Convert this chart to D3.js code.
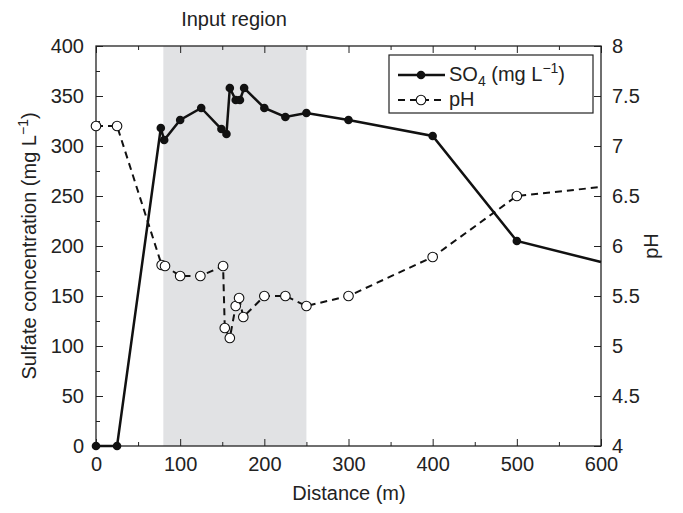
<!DOCTYPE html>
<html>
<head>
<meta charset="utf-8">
<script src="https://cdn.jsdelivr.net/npm/d3@7"></script>
<style>
  body { margin: 0; background: #fff; }
  text { font-family: "Liberation Sans", Arial, sans-serif; fill: #222; }
</style>
</head>
<body>
<script>
var w = 683;
var h = 513;

// sulfate (mg/L) against distance (m)
var so4Dist = [0, 25, 77, 81, 100, 125, 149, 155, 159, 166, 171, 176, 200, 225, 250, 300, 400, 500, 600];
var so4Val  = [0, 0, 318, 306, 326, 338, 317, 312, 358, 346, 346, 358, 338, 329, 333, 326, 310, 205, 184];
var so4Marker = [1,1,1,1,1,1,1,1,1,1,1,1,1,1,1,1,1,1,0];

// pH against distance (m)
var phDist = [0, 25, 78, 82, 100, 124, 151, 153, 159, 166, 170, 175, 200, 225, 250, 300, 400, 500, 600];
var phVal  = [7.2, 7.2, 5.81, 5.8, 5.7, 5.7, 5.8, 5.18, 5.08, 5.4, 5.48, 5.29, 5.5, 5.5, 5.4, 5.5, 5.89, 6.5, 6.59];
var phMarker = [1,1,1,1,1,1,1,1,1,1,1,1,1,1,1,1,1,1,0];

var inputRegion = [80, 250];

var xTicks = [0, 100, 200, 300, 400, 500, 600];
var xMinor = [50, 150, 250, 350, 450, 550];
var yTicks = [0, 50, 100, 150, 200, 250, 300, 350, 400];
var yMinor = [25, 75, 125, 175, 225, 275, 325, 375];
var phTicks = [4, 4.5, 5, 5.5, 6, 6.5, 7, 7.5, 8];

var pL = 96, pR = 601, pT = 46, pB = 446;

var svg = d3.select("body").append("svg")
    .attr("width", w)
    .attr("height", h);

var x = d3.scaleLinear().domain([0, 600]).range([pL, pR]);
var y = d3.scaleLinear().domain([0, 400]).range([pB, pT]);
var yPh = d3.scaleLinear().domain([4, 8]).range([pB, pT]);

// shaded input region
svg.append("rect")
    .attr("x", x(inputRegion[0]))
    .attr("y", pT)
    .attr("width", x(inputRegion[1]) - x(inputRegion[0]))
    .attr("height", pB - pT)
    .attr("fill", "#e1e2e4");

svg.append("text")
    .attr("x", 234).attr("y", 26)
    .attr("text-anchor", "middle")
    .attr("font-size", 20)
    .text("Input region");

// axes (ticks pointing inward)
function styleAxis(g) {
    g.select(".domain").remove();
    g.selectAll("line").attr("stroke", "#222").attr("stroke-width", 1);
    g.selectAll("text").attr("font-size", 20).attr("fill", "#222")
        .attr("font-family", "'Liberation Sans', Arial, sans-serif");
}

svg.append("g").attr("transform", "translate(0," + pB + ")")
    .call(d3.axisBottom(x).tickValues(xTicks).tickSize(-7).tickPadding(11).tickFormat(d3.format("d")))
    .call(styleAxis);
svg.append("g").attr("transform", "translate(0," + pB + ")")
    .call(d3.axisBottom(x).tickValues(xMinor).tickSize(-4).tickFormat(""))
    .call(styleAxis);
svg.append("g").attr("transform", "translate(0," + pT + ")")
    .call(d3.axisTop(x).tickValues(xTicks).tickSize(-7).tickFormat(""))
    .call(styleAxis);
svg.append("g").attr("transform", "translate(0," + pT + ")")
    .call(d3.axisTop(x).tickValues(xMinor).tickSize(-4).tickFormat(""))
    .call(styleAxis);

svg.append("g").attr("transform", "translate(" + pL + ",0)")
    .call(d3.axisLeft(y).tickValues(yTicks).tickSize(-7).tickPadding(12))
    .call(styleAxis);
svg.append("g").attr("transform", "translate(" + pL + ",0)")
    .call(d3.axisLeft(y).tickValues(yMinor).tickSize(-4).tickFormat(""))
    .call(styleAxis);

svg.append("g").attr("transform", "translate(" + pR + ",0)")
    .call(d3.axisRight(yPh).tickValues(phTicks).tickSize(-7).tickPadding(11).tickFormat(d3.format("")))
    .call(styleAxis);

// frame
svg.append("rect")
    .attr("x", pL).attr("y", pT)
    .attr("width", pR - pL).attr("height", pB - pT)
    .attr("fill", "none").attr("stroke", "#222").attr("stroke-width", 1.3);

// axis titles
svg.append("text")
    .attr("x", 349).attr("y", 500)
    .attr("text-anchor", "middle").attr("font-size", 20)
    .text("Distance (m)");

var yl = svg.append("text")
    .attr("transform", "translate(36," + ((pT + pB) / 2) + ") rotate(-90)")
    .attr("text-anchor", "middle").attr("font-size", 20);
yl.append("tspan").text("Sulfate concentration (mg L");
yl.append("tspan").attr("dy", -8).attr("font-size", 14).text("\u22121");
yl.append("tspan").attr("dy", 8).text(")");

svg.append("text")
    .attr("transform", "translate(658," + ((pT + pB) / 2) + ") rotate(-90)")
    .attr("text-anchor", "middle").attr("font-size", 20)
    .text("pH");

// series
var so4 = so4Dist.map(function(d, i) { return {x: d, y: so4Val[i], m: so4Marker[i]}; });
var ph = phDist.map(function(d, i) { return {x: d, y: phVal[i], m: phMarker[i]}; });

svg.append("path")
    .datum(ph)
    .attr("fill", "none").attr("stroke", "#111").attr("stroke-width", 2)
    .attr("stroke-dasharray", "7,5")
    .attr("d", d3.line().x(function(d) { return x(d.x); }).y(function(d) { return yPh(d.y); }));

svg.append("path")
    .datum(so4)
    .attr("fill", "none").attr("stroke", "#111").attr("stroke-width", 2.5)
    .attr("d", d3.line().x(function(d) { return x(d.x); }).y(function(d) { return y(d.y); }));

svg.selectAll(".phpt")
    .data(ph.filter(function(d) { return d.m; }))
    .enter().append("circle")
    .attr("class", "phpt")
    .attr("cx", function(d) { return x(d.x); })
    .attr("cy", function(d) { return yPh(d.y); })
    .attr("r", 4.8)
    .attr("fill", "#fff").attr("stroke", "#111").attr("stroke-width", 1.1);

svg.selectAll(".so4pt")
    .data(so4.filter(function(d) { return d.m; }))
    .enter().append("circle")
    .attr("class", "so4pt")
    .attr("cx", function(d) { return x(d.x); })
    .attr("cy", function(d) { return y(d.y); })
    .attr("r", 4.3)
    .attr("fill", "#111");

// legend
var lg = svg.append("g");
lg.append("rect")
    .attr("x", 389).attr("y", 55).attr("width", 204).attr("height", 58)
    .attr("fill", "#fff").attr("stroke", "#222").attr("stroke-width", 1.2);
lg.append("line").attr("x1", 398).attr("x2", 445).attr("y1", 75).attr("y2", 75)
    .attr("stroke", "#111").attr("stroke-width", 2.5);
lg.append("circle").attr("cx", 421).attr("cy", 75).attr("r", 4.3).attr("fill", "#111");
lg.append("line").attr("x1", 398).attr("x2", 445).attr("y1", 100).attr("y2", 100)
    .attr("stroke", "#111").attr("stroke-width", 2).attr("stroke-dasharray", "7,5");
lg.append("circle").attr("cx", 421).attr("cy", 100).attr("r", 4.8)
    .attr("fill", "#fff").attr("stroke", "#111").attr("stroke-width", 1.1);

var t1 = lg.append("text").attr("x", 449).attr("y", 81).attr("font-size", 20);
t1.append("tspan").text("SO");
t1.append("tspan").attr("dy", 5).attr("font-size", 14).text("4");
t1.append("tspan").attr("dy", -5).text(" (mg L");
t1.append("tspan").attr("dy", -8).attr("font-size", 14).text("\u22121");
t1.append("tspan").attr("dy", 8).text(")");

lg.append("text").attr("x", 449).attr("y", 106).attr("font-size", 20).text("pH");
</script>
</body>
</html>
